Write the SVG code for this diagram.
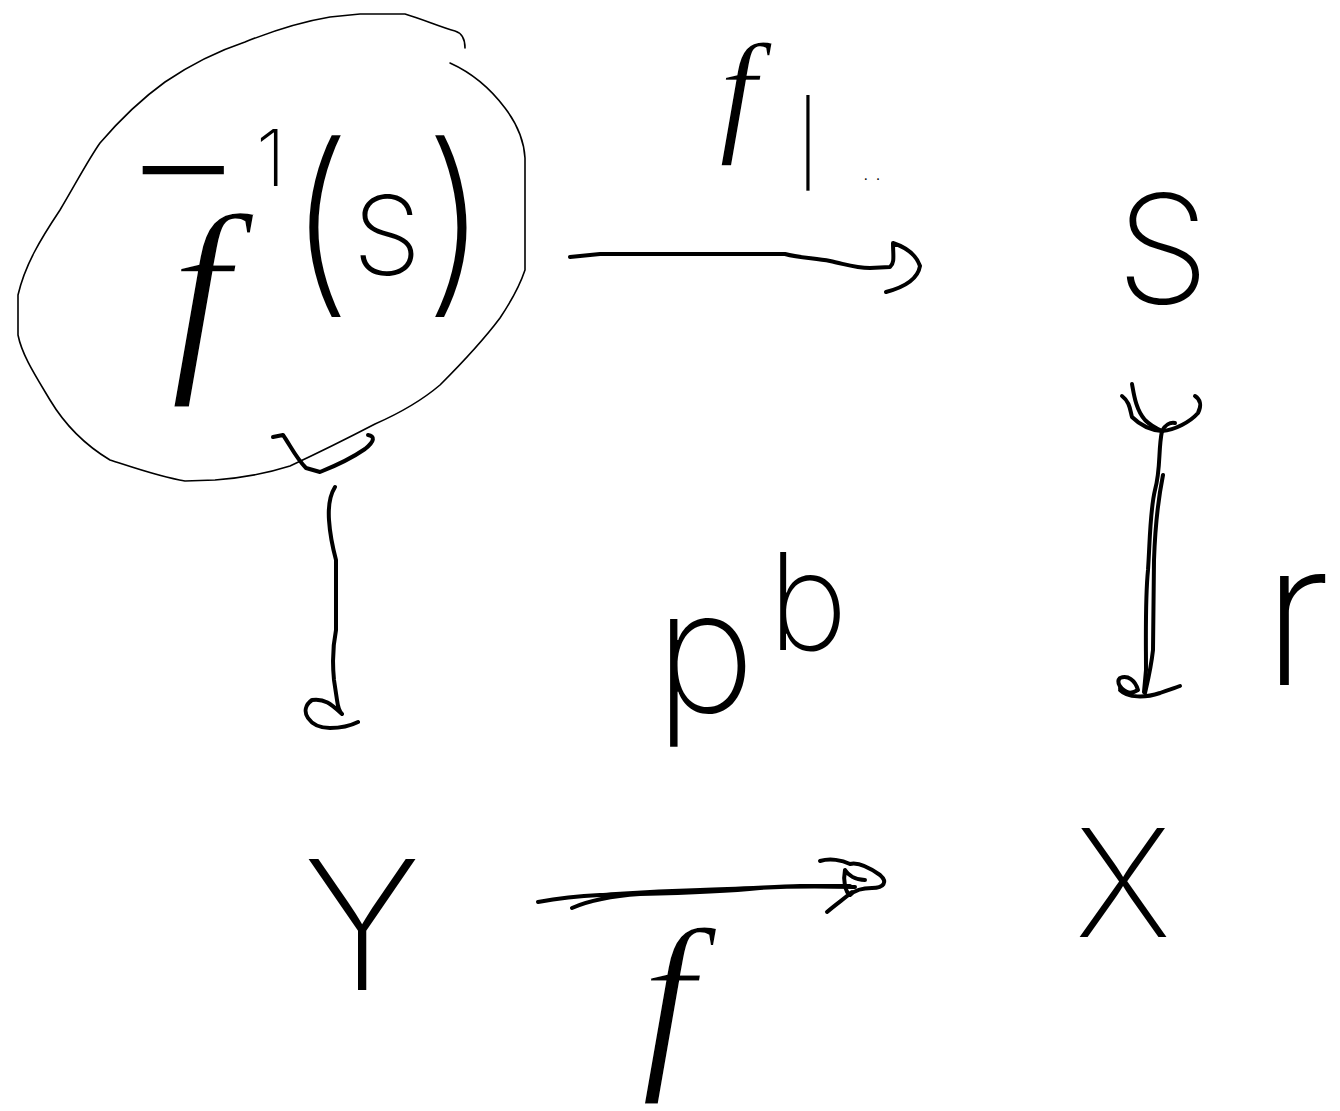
<svg xmlns="http://www.w3.org/2000/svg" width="1340" height="1111" viewBox="0 0 1340 1111">
<style>
.bg{fill:#ffffff}
.ink{fill:none;stroke:#000;stroke-width:4;stroke-linecap:round;stroke-linejoin:round}
.thin{fill:none;stroke:#000;stroke-width:1.6;stroke-linecap:round;stroke-linejoin:round}
.lbl{fill:#000;font-family:Inter,Roboto,"Liberation Sans",sans-serif;font-weight:200}
.it{fill:#000;font-family:"Liberation Serif","DejaVu Serif",serif;font-style:italic;stroke:#fff;stroke-width:3}
.it-s{fill:#000;font-family:"Liberation Serif","DejaVu Serif",serif;font-style:italic;stroke:#fff;stroke-width:1.5}
</style>
<rect class="bg" x="0" y="0" width="1340" height="1111"/>

<g id="node-preimage">
  <path class="thin" d="M450,63 C470,72 490,88 505,108 C518,125 524,140 525,158 L525,270 C520,285 512,300 500,318 C485,338 465,360 440,385 C420,402 400,413 375,424 C350,437 320,452 290,466 C265,474 240,478 215,480 L185,481 C160,477 135,468 110,460 C85,445 65,425 50,400 C35,375 22,355 18,335 L18,295 C25,265 40,240 60,210 C75,185 88,160 100,143 C118,122 140,100 165,82 C190,65 215,52 245,42 C275,30 300,22 330,17 L360,14 L405,14 C425,20 440,27 455,31 C462,33 465,38 465,48"/>
  <text class="lbl" x="122" y="186" font-size="78"><tspan font-size="190" dy="38">−</tspan><tspan x="256" dy="-38">1</tspan></text>
  <text class="it" x="200" y="362" font-size="215" text-anchor="middle">f</text>
  <text class="lbl" x="320" y="290" font-size="200" text-anchor="middle">(</text>
  <text class="lbl" x="387" y="275" font-size="110" text-anchor="middle">S</text>
  <text class="lbl" x="456" y="290" font-size="200" text-anchor="middle">)</text>
</g>

<g id="node-S">
  <text class="lbl" x="1163" y="303" font-size="150" text-anchor="middle">S</text>
</g>

<g id="node-Y">
  <text class="lbl" x="362" y="990" font-size="180" text-anchor="middle">Y</text>
</g>

<g id="node-X">
  <text class="lbl" x="1123" y="937" font-size="150" text-anchor="middle">X</text>
</g>

<g id="label-pb">
  <text class="lbl" x="705" y="712" font-size="170" text-anchor="middle">p</text>
  <text class="lbl" x="808" y="650" font-size="135" text-anchor="middle">b</text>
</g>

<g id="connectors">
  <!-- top: f^-1(S) -> S -->
  <path class="ink" d="M570,257 L600,254 L785,254 C800,258 815,258 830,261 C845,264 855,268 870,268 L890,267 C895,263 893,255 893,243 C905,247 916,254 920,266 C918,278 905,287 886,292"/>
  <!-- left: f^-1(S) -> Y -->
  <path class="ink" d="M273,437 L283,435 C290,445 296,458 306,468 L320,472 C335,466 352,458 365,449 C375,441 375,436 368,435"/>
  <path class="ink" d="M335,487 C330,495 328,505 329,520 C330,535 332,545 336,560 L336,630 C333,645 332,660 334,680 L337,700 C338,708 340,712 342,714 C332,705 325,698 312,700 C305,705 304,712 308,718 C312,724 318,728 330,728 C342,728 350,726 358,722"/>
  <!-- right: S -> X (mono) -->
  <path class="ink" d="M1122,396 C1130,402 1130,410 1132,417 C1140,425 1150,430 1162,431 C1175,430 1190,422 1198,413 C1202,405 1200,399 1195,396"/>
  <path class="ink" d="M1132,384 C1134,395 1136,410 1145,420 C1150,425 1155,428 1162,431 C1165,425 1170,422 1175,423"/>
  <path class="ink" d="M1162,431 C1158,450 1161,468 1155,490 C1150,510 1150,540 1148,570 C1145,600 1146,640 1146,670 L1144,692"/>
  <path class="ink" d="M1163,475 C1158,500 1155,530 1154,560 L1153,650 C1151,668 1148,680 1145,693"/>
  <path class="ink" d="M1130,693 C1120,690 1116,682 1120,678 C1128,675 1135,680 1138,690 C1130,695 1122,694 1120,688 M1120,690 C1128,698 1145,698 1160,693 C1168,690 1175,688 1180,686"/>
  <!-- bottom: Y -> X -->
  <path class="ink" d="M538,902 C560,898 580,896 600,895 C630,893 650,891 700,890 C740,889 770,887 800,886 L850,886 M572,908 C590,900 610,896 640,894 C680,893 720,892 760,888 C790,886 820,886 855,887"/>
  <path class="ink" d="M820,861 C830,858 842,860 850,864 C858,862 870,868 880,875 C888,882 884,888 872,888 C862,888 855,890 850,895 C845,892 843,880 845,870 C848,875 855,880 865,880 M827,912 C835,905 845,898 852,892"/>
</g>

<g id="label-top">
  <text class="it-s" x="738" y="137" font-size="135" text-anchor="middle">f</text>
  <text class="lbl" x="808" y="172" font-size="80" text-anchor="middle">|</text>
  <text class="lbl" x="872" y="180" font-size="22" text-anchor="middle">. .</text>
</g>

<g id="label-bottom">
  <text class="it" x="668" y="1063" font-size="195" text-anchor="middle">f</text>
</g>

<g id="label-right">
  <text class="lbl" x="1262" y="685" font-size="200">r</text>
</g>
</svg>
